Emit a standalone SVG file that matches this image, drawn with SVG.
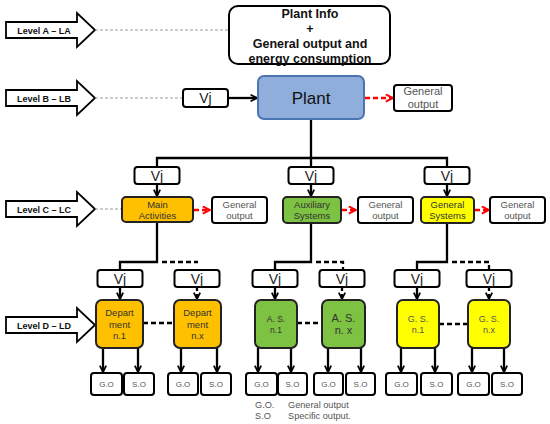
<svg xmlns="http://www.w3.org/2000/svg" width="550" height="424" viewBox="0 0 550 424">
<defs>
<marker id="ah" viewBox="0 0 10 10" refX="9" refY="5" markerWidth="8" markerHeight="8" markerUnits="userSpaceOnUse" orient="auto">
<path d="M1,1 L9,5 L1,9" fill="none" stroke="#000" stroke-width="2.2"/>
</marker>
<marker id="ahr" viewBox="0 0 10 10" refX="9" refY="5" markerWidth="9" markerHeight="9" markerUnits="userSpaceOnUse" orient="auto">
<path d="M1,1 L9,5 L1,9" fill="none" stroke="#f00" stroke-width="2.2"/>
</marker>
<style>
text{font-family:"Liberation Sans",Arial,sans-serif;text-anchor:middle}
.lvl{fill:#fff;stroke:#000;stroke-width:1.8}
.lt{font-size:9px;font-weight:bold;fill:#111}
.gl{stroke:#999;stroke-width:1.2;stroke-dasharray:3 2;fill:none}
.box{fill:#fff;stroke:#000;stroke-width:2}
.vj{font-size:14px;fill:#222}
.go{font-size:9.5px;fill:#555}
.so{font-size:8px;fill:#555}
.c{stroke:#000;stroke-width:2.3;fill:none}
.cd{stroke:#000;stroke-width:2.3;fill:none;stroke-dasharray:5 3}
.ar{stroke:#000;stroke-width:2.3;fill:none;marker-end:url(#ah)}
.ard{stroke:#000;stroke-width:2.3;fill:none;marker-end:url(#ah);stroke-dasharray:4 3}
.rd{stroke:#f00;stroke-width:2.3;fill:none;stroke-dasharray:5 3;marker-end:url(#ahr)}
.nt{font-size:9.5px;fill:#333}
.or{fill:#FFC000;stroke:#222;stroke-width:2}
.gr{fill:#7DC242;stroke:#222;stroke-width:2}
.ye{fill:#FFFF00;stroke:#222;stroke-width:2}
.leg{font-size:9.2px;fill:#555;text-anchor:start}
</style>
</defs>

<g id="levelA">
<polygon class="lvl" points="6,22 77,22 77,13 95,30 77,47 77,38 6,38"/>
<text class="lt" x="44" y="33.5">Level A – LA</text>
</g>
<g id="levelB">
<polygon class="lvl" points="6,90 77,90 77,81 95,98 77,115 77,106 6,106"/>
<text class="lt" x="44" y="101.5">Level B – LB</text>
</g>
<g id="levelC">
<polygon class="lvl" points="6,201 77,201 77,192 95,209 77,226 77,217 6,217"/>
<text class="lt" x="44" y="212.5">Level C – LC</text>
</g>
<g id="levelD">
<polygon class="lvl" points="6,317 77,317 77,308 95,325 77,342 77,333 6,333"/>
<text class="lt" x="44" y="328.5">Level D – LD</text>
</g>

<g id="connectors">
<line class="gl" x1="95" y1="30" x2="229" y2="30"/>
<line class="gl" x1="95" y1="98" x2="183" y2="98"/>
<line class="gl" x1="95" y1="209" x2="122" y2="209" stroke-width="1"/>
<line class="ar" x1="228" y1="98" x2="257" y2="98"/>
<line class="rd" x1="365" y1="98" x2="393" y2="98"/>
<path class="c" d="M311,119 V158 M157,167 V158 H447 V167 M311,158 V167"/>
<line class="ar" x1="157" y1="184" x2="157" y2="196"/>
<line class="ar" x1="311" y1="184" x2="311" y2="196"/>
<line class="ar" x1="447" y1="184" x2="447" y2="196"/>
<line class="rd" x1="194" y1="210" x2="210" y2="210"/>
<line class="rd" x1="342" y1="210" x2="356" y2="210"/>
<line class="rd" x1="475" y1="210" x2="489" y2="210"/>
<path class="c" d="M157,222 V262 H120 V270"/>
<path class="cd" d="M162,262 H198"/>
<path class="c" d="M311,223 V262 H275 V270"/>
<path class="cd" d="M316,262 H343 V270"/>
<path class="c" d="M447,223 V262 H417 V270"/>
<path class="cd" d="M452,262 H489 V270"/>
<line class="ar" x1="120" y1="287" x2="120" y2="299"/>
<line class="ard" x1="197" y1="287" x2="197" y2="299"/>
<line class="ar" x1="275" y1="287" x2="275" y2="299"/>
<line class="ard" x1="342" y1="287" x2="342" y2="299"/>
<line class="ar" x1="417" y1="287" x2="417" y2="299"/>
<line class="ard" x1="489" y1="287" x2="489" y2="299"/>
<path class="cd" d="M143,323 H174 M297,323 H322 M439,324 H468"/>
<line class="ar" x1="103" y1="348" x2="103" y2="372"/>
<line class="ar" x1="138" y1="348" x2="138" y2="372"/>
<line class="ar" x1="181" y1="348" x2="181" y2="372"/>
<line class="ar" x1="217" y1="348" x2="217" y2="372"/>
<line class="ar" x1="258" y1="348" x2="258" y2="372"/>
<line class="ar" x1="291" y1="348" x2="291" y2="372"/>
<line class="ar" x1="328" y1="348" x2="328" y2="372"/>
<line class="ar" x1="361" y1="348" x2="361" y2="372"/>
<line class="ar" x1="401" y1="348" x2="401" y2="372"/>
<line class="ar" x1="435" y1="348" x2="435" y2="372"/>
<line class="ar" x1="472" y1="348" x2="472" y2="372"/>
<line class="ar" x1="504" y1="348" x2="504" y2="372"/>
</g>

<g id="plantInfo">
<rect class="box" x="229" y="6" width="161" height="58" rx="9" stroke-width="2"/>
<text x="310" y="18" font-size="12.5" font-weight="bold" fill="#111">Plant Info</text>
<text x="310" y="32.5" font-size="12.5" font-weight="bold" fill="#111">+</text>
<text x="310" y="47.5" font-size="12.5" font-weight="bold" fill="#111">General output and</text>
<text x="310" y="63" font-size="12.5" font-weight="bold" fill="#111">energy consumption</text>
</g>

<g id="vjB">
<rect class="box" x="183" y="89" width="45" height="18" rx="3"/>
<text class="vj" x="205.5" y="103">Vj</text>
</g>
<g id="plant">
<rect x="258" y="76" width="106" height="43" rx="6" fill="#8FAEDC" stroke="#4A74B4" stroke-width="2"/>
<text x="311" y="104" font-size="17" fill="#111">Plant</text>
</g>
<g id="goB">
<rect class="box" x="394" y="85" width="58" height="26" rx="3"/>
<text x="423" y="95" font-size="11" fill="#555">General</text>
<text x="423" y="108" font-size="11" fill="#555">output</text>
</g>

<g id="vjC1"><rect class="box" x="134.5" y="167" width="45" height="17" rx="3"/><text class="vj" x="157" y="180.5">Vj</text></g>
<g id="vjC2"><rect class="box" x="288.5" y="167" width="45" height="17" rx="3"/><text class="vj" x="311" y="180.5">Vj</text></g>
<g id="vjC3"><rect class="box" x="424.5" y="167" width="45" height="17" rx="3"/><text class="vj" x="447" y="180.5">Vj</text></g>

<g id="mainActivities">
<rect class="or" x="122" y="197" width="71" height="25" rx="4"/>
<text class="nt" x="157.5" y="207.5">Main</text>
<text class="nt" x="157.5" y="219">Activities</text>
</g>
<g id="auxSystems">
<rect class="gr" x="283" y="197" width="58" height="26" rx="4"/>
<text class="nt" x="312" y="207.5">Auxiliary</text>
<text class="nt" x="312" y="219">Systems</text>
</g>
<g id="genSystems">
<rect class="ye" x="421" y="197" width="53" height="26" rx="4"/>
<text class="nt" x="447.5" y="207.5">General</text>
<text class="nt" x="447.5" y="219">Systems</text>
</g>
<g id="goC1"><rect class="box" x="212" y="197" width="55" height="26" rx="3"/><text class="go" x="239.5" y="207.5">General</text><text class="go" x="239.5" y="219">output</text></g>
<g id="goC2"><rect class="box" x="358" y="197" width="55" height="26" rx="3"/><text class="go" x="385.5" y="207.5">General</text><text class="go" x="385.5" y="219">output</text></g>
<g id="goC3"><rect class="box" x="490" y="197" width="55" height="26" rx="3"/><text class="go" x="517.5" y="207.5">General</text><text class="go" x="517.5" y="219">output</text></g>

<g id="vjD1"><rect class="box" x="97.5" y="270" width="45" height="17" rx="3"/><text class="vj" x="120" y="283.5">Vj</text></g>
<g id="vjD2"><rect class="box" x="174.5" y="270" width="45" height="17" rx="3"/><text class="vj" x="197" y="283.5">Vj</text></g>
<g id="vjD3"><rect class="box" x="252.5" y="270" width="45" height="17" rx="3"/><text class="vj" x="275" y="283.5">Vj</text></g>
<g id="vjD4"><rect class="box" x="319.5" y="270" width="45" height="17" rx="3"/><text class="vj" x="342" y="283.5">Vj</text></g>
<g id="vjD5"><rect class="box" x="394.5" y="270" width="45" height="17" rx="3"/><text class="vj" x="417" y="283.5">Vj</text></g>
<g id="vjD6"><rect class="box" x="466.5" y="270" width="45" height="17" rx="3"/><text class="vj" x="489" y="283.5">Vj</text></g>

<g id="dept1">
<rect class="or" x="96" y="300" width="47" height="48" rx="6"/>
<text class="nt" x="119.5" y="316">Depart</text>
<text class="nt" x="119.5" y="327.5">ment</text>
<text class="nt" x="119.5" y="339">n.1</text>
</g>
<g id="deptx">
<rect class="or" x="174" y="300" width="47" height="48" rx="6"/>
<text class="nt" x="197.5" y="316">Depart</text>
<text class="nt" x="197.5" y="327.5">ment</text>
<text class="nt" x="197.5" y="339">n.x</text>
</g>
<g id="as1">
<rect class="gr" x="255" y="300" width="42" height="48" rx="6"/>
<text x="276" y="322" font-size="8.5" fill="#333">A. S.</text>
<text x="276" y="333" font-size="8.5" fill="#333">n.1</text>
</g>
<g id="asx">
<rect class="gr" x="322" y="300" width="43" height="48" rx="6"/>
<text x="343.5" y="322" font-size="11" fill="#333">A. S.</text>
<text x="343.5" y="334" font-size="11" fill="#333">n. x</text>
</g>
<g id="gs1">
<rect class="ye" x="397" y="300" width="42" height="48" rx="6"/>
<text x="418" y="321.5" font-size="9" fill="#555">G. S.</text>
<text x="418" y="332.5" font-size="9" fill="#555">n.1</text>
</g>
<g id="gsx">
<rect class="ye" x="468" y="300" width="42" height="48" rx="6"/>
<text x="489" y="321.5" font-size="9" fill="#555">G. S.</text>
<text x="489" y="332.5" font-size="9" fill="#555">n.x</text>
</g>

<g id="outD1a"><rect class="box" x="91" y="373" width="31" height="22" rx="3"/><text class="so" x="106.5" y="387">G.O</text></g>
<g id="outD1b"><rect class="box" x="124" y="373" width="30" height="22" rx="3"/><text class="so" x="139" y="387">S.O</text></g>
<g id="outD2a"><rect class="box" x="168" y="373" width="30" height="22" rx="3"/><text class="so" x="183" y="387">G.O</text></g>
<g id="outD2b"><rect class="box" x="201" y="373" width="30" height="22" rx="3"/><text class="so" x="216" y="387">S.O</text></g>
<g id="outD3a"><rect class="box" x="246" y="373" width="31" height="22" rx="3"/><text class="so" x="261.5" y="387">G.O</text></g>
<g id="outD3b"><rect class="box" x="278" y="373" width="29" height="22" rx="3"/><text class="so" x="292.5" y="387">S.O</text></g>
<g id="outD4a"><rect class="box" x="314" y="373" width="29" height="22" rx="3"/><text class="so" x="328.5" y="387">G.O</text></g>
<g id="outD4b"><rect class="box" x="346" y="373" width="29" height="22" rx="3"/><text class="so" x="360.5" y="387">S.O</text></g>
<g id="outD5a"><rect class="box" x="386" y="373" width="31" height="22" rx="3"/><text class="so" x="401.5" y="387">G.O</text></g>
<g id="outD5b"><rect class="box" x="421" y="373" width="31" height="22" rx="3"/><text class="so" x="436.5" y="387">S.O</text></g>
<g id="outD6a"><rect class="box" x="458" y="373" width="31" height="22" rx="3"/><text class="so" x="473.5" y="387">G.O</text></g>
<g id="outD6b"><rect class="box" x="492" y="373" width="30" height="22" rx="3"/><text class="so" x="507" y="387">S.O</text></g>

<g id="legend">
<text class="leg" x="255" y="407.5">G.O.</text>
<text class="leg" x="255" y="418.5">S.O</text>
<text class="leg" x="288" y="407.5">General output</text>
<text class="leg" x="288" y="418.5">Specific output.</text>
</g>
</svg>
